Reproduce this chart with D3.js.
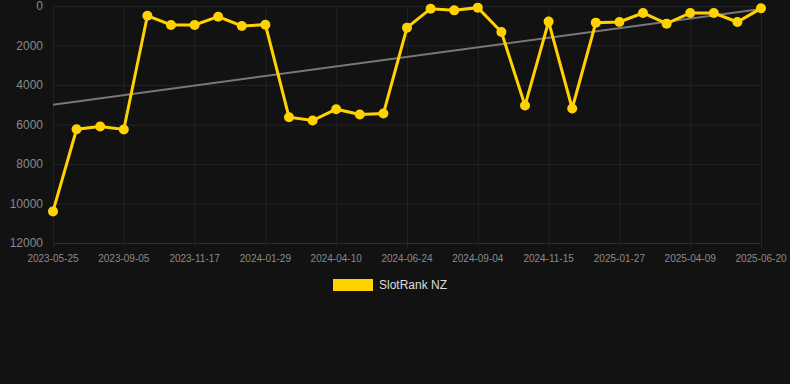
<!DOCTYPE html>
<html>
<head>
<meta charset="utf-8">
<script src="https://cdn.jsdelivr.net/npm/d3@7"></script>
<style>
  body { margin: 0; background: #121212; }
  svg { display: block; font-family: "Liberation Sans", Arial, sans-serif; }
</style>
</head>
<body>
<div id="chart"></div>
<script>
// dates of each rank sample (only every 3rd one is labelled on the axis)
var dates = [
  '2023-05-25', '2023-06-28', '2023-08-01', '2023-09-05', '2023-09-29', '2023-10-23',
  '2023-11-17', '2023-12-11', '2024-01-05', '2024-01-29', '2024-02-21', '2024-03-16',
  '2024-04-10', '2024-05-05', '2024-05-30', '2024-06-24', '2024-07-18', '2024-08-11',
  '2024-09-04', '2024-09-28', '2024-10-22', '2024-11-15', '2024-12-10', '2025-01-03',
  '2025-01-27', '2025-02-20', '2025-03-16', '2025-04-09', '2025-05-03', '2025-05-27',
  '2025-06-20'
];
var ranks = [
  10400, 6240, 6100, 6250, 490, 960, 960, 540, 1010, 945,
  5630, 5800, 5225, 5495, 5445, 1095, 135, 220, 84, 1315,
  5040, 790, 5190, 843, 810, 354, 893, 354, 354, 810, 118
];
var yTicks = [0, 2000, 4000, 6000, 8000, 10000, 12000];
var seriesName = 'SlotRank NZ';

var width = 790, height = 384;
var margin = { top: 6, right: 29, bottom: 141, left: 53 };

var svg = d3.select('#chart')
  .append('svg')
  .attr('width', width)
  .attr('height', height);

svg.append('rect')
  .attr('width', width)
  .attr('height', height)
  .attr('fill', '#121212');

var x = d3.scalePoint()
  .domain(d3.range(dates.length))
  .range([margin.left, width - margin.right]);

var y = d3.scaleLinear()
  .domain([0, 12000])
  .range([margin.top, height - margin.bottom]);

var labelled = d3.range(0, dates.length, 3);

// grid
svg.append('g')
  .selectAll('line')
  .data(yTicks)
  .enter()
  .append('line')
  .attr('x1', margin.left)
  .attr('x2', width - margin.right)
  .attr('y1', function(d) { return y(d) + 0.5; })
  .attr('y2', function(d) { return y(d) + 0.5; })
  .attr('stroke', function(d) { return d === 12000 ? '#2e2e2e' : '#222'; })
  .attr('stroke-width', 1);

svg.append('g')
  .selectAll('line')
  .data(labelled)
  .enter()
  .append('line')
  .attr('x1', function(i) { return x(i) + 0.5; })
  .attr('x2', function(i) { return x(i) + 0.5; })
  .attr('y1', margin.top)
  .attr('y2', height - margin.bottom + 5)
  .attr('stroke', '#222')
  .attr('stroke-width', 1);

// y axis labels
svg.append('g')
  .selectAll('text')
  .data(yTicks)
  .enter()
  .append('text')
  .attr('x', margin.left - 10)
  .attr('y', function(d) { return y(d); })
  .attr('dy', '0.35em')
  .attr('text-anchor', 'end')
  .attr('fill', '#8a8a8a')
  .attr('font-size', 12)
  .text(function(d) { return d; });

// x axis labels
svg.append('g')
  .selectAll('text')
  .data(labelled)
  .enter()
  .append('text')
  .attr('x', function(i) { return x(i); })
  .attr('y', height - margin.bottom + 19)
  .attr('text-anchor', 'middle')
  .attr('fill', '#8a8a8a')
  .attr('font-size', 10)
  .text(function(i) { return dates[i]; });

// least squares trend line
var n = ranks.length;
var mx = d3.mean(d3.range(n));
var my = d3.mean(ranks);
var slope = d3.sum(ranks, function(v, i) { return (i - mx) * (v - my); }) /
            d3.sum(d3.range(n), function(i) { return (i - mx) * (i - mx); });
var trend = [0, n - 1].map(function(i) { return [i, my + slope * (i - mx)]; });

svg.append('path')
  .datum(trend)
  .attr('d', d3.line()
    .x(function(d) { return x(d[0]); })
    .y(function(d) { return y(d[1]); }))
  .attr('fill', 'none')
  .attr('stroke', '#777')
  .attr('stroke-width', 2);

// rank line
svg.append('path')
  .datum(ranks)
  .attr('d', d3.line()
    .x(function(d, i) { return x(i); })
    .y(function(d) { return y(d); }))
  .attr('fill', 'none')
  .attr('stroke', '#ffd200')
  .attr('stroke-width', 3);

svg.selectAll('circle')
  .data(ranks)
  .enter()
  .append('circle')
  .attr('cx', function(d, i) { return x(i); })
  .attr('cy', function(d) { return y(d); })
  .attr('r', 5)
  .attr('fill', '#ffd200');

// legend
var legend = svg.append('g');
legend.append('rect')
  .attr('x', 333)
  .attr('y', 279)
  .attr('width', 40)
  .attr('height', 12)
  .attr('fill', '#ffd200');
legend.append('text')
  .attr('x', 379)
  .attr('y', 285)
  .attr('dy', '0.35em')
  .attr('fill', '#dddddd')
  .attr('font-size', 12)
  .text(seriesName);
</script>
</body>
</html>
